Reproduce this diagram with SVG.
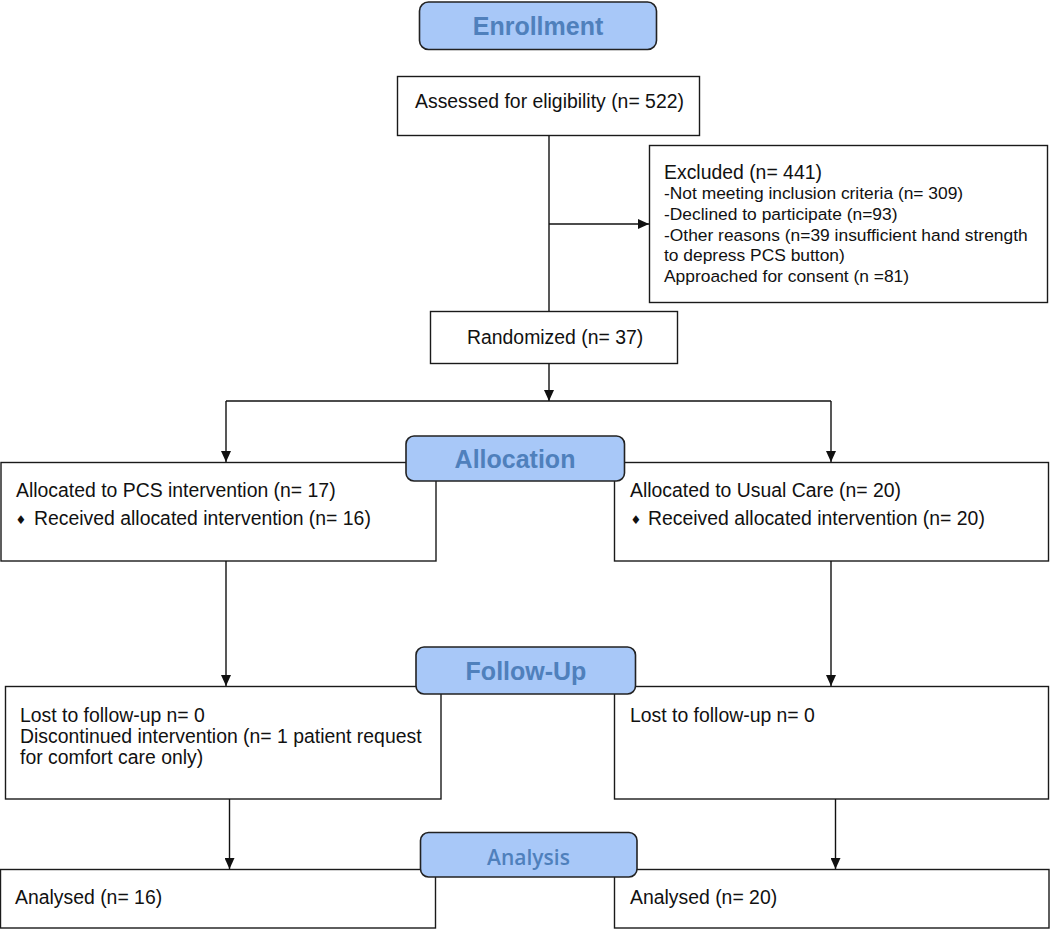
<svg xmlns="http://www.w3.org/2000/svg" width="1050" height="929" viewBox="0 0 1050 929">
<style>
.box{fill:#ffffff;stroke:#1a1a1a;stroke-width:1.4}
.phase{fill:#a8c8f8;stroke:#222222;stroke-width:1.6}
.ptxt{font-family:"Liberation Sans",Arial,sans-serif;font-weight:bold;font-size:25px;fill:#4f80bc;text-anchor:middle}
.atxt{font-family:"Open Sans","Liberation Sans",sans-serif;font-weight:600;font-size:21px;fill:#4f80bc;text-anchor:middle}
.t{font-family:"Liberation Sans",Arial,sans-serif;font-size:19.4px;fill:#111111}
.s{font-family:"Liberation Sans",Arial,sans-serif;font-size:17.4px;fill:#111111}
.dia{font-family:"DejaVu Sans",sans-serif;font-size:12px;fill:#111111;text-anchor:middle}
.ln{fill:none;stroke:#111111;stroke-width:1.4}
</style>
<defs>
<marker id="arr" markerUnits="userSpaceOnUse" markerWidth="11" markerHeight="10" refX="11" refY="5" orient="auto">
<path d="M0,0 L11,5 L0,10 z" fill="#111111"/>
</marker>
</defs>
<rect width="1050" height="929" fill="#ffffff"/>

<g id="assessed">
<rect class="box" x="397.5" y="76.5" width="302" height="59"/>
<text class="t" x="415" y="108">Assessed for eligibility (n= 522)</text>
</g>
<g id="excluded">
<rect class="box" x="649.5" y="145.5" width="398" height="157"/>
<text class="t" x="664" y="179">Excluded (n= 441)</text>
<text class="s" x="664" y="199">-Not meeting inclusion criteria (n= 309)</text>
<text class="s" x="664" y="220">-Declined to participate (n=93)</text>
<text class="s" x="664" y="241">-Other reasons (n=39 insufficient hand strength</text>
<text class="s" x="664" y="261">to depress PCS button)</text>
<text class="s" x="664" y="282">Approached for consent (n =81)</text>
</g>
<g id="randomized">
<rect class="box" x="430.5" y="311.5" width="247" height="52"/>
<text class="t" x="467" y="344">Randomized (n= 37)</text>
</g>
<g id="alloc-pcs">
<rect class="box" x="1" y="462.5" width="435" height="98.5"/>
<text class="t" x="16" y="496.5">Allocated to PCS intervention (n= 17)</text>
<text class="dia" x="21" y="524">♦</text>
<text class="t" x="34" y="524.5">Received allocated intervention (n= 16)</text>
</g>
<g id="alloc-usual">
<rect class="box" x="614.5" y="462.5" width="434" height="98.5"/>
<text class="t" x="630" y="496.5">Allocated to Usual Care (n= 20)</text>
<text class="dia" x="636" y="524">♦</text>
<text class="t" x="648" y="524.5">Received allocated intervention (n= 20)</text>
</g>
<g id="follow-pcs">
<rect class="box" x="5.5" y="686.5" width="435.5" height="112.5"/>
<text class="t" x="20" y="722">Lost to follow-up n= 0</text>
<text class="t" x="20" y="743">Discontinued intervention (n= 1 patient request</text>
<text class="t" x="20" y="764">for comfort care only)</text>
</g>
<g id="follow-usual">
<rect class="box" x="614.5" y="686.5" width="434" height="112.5"/>
<text class="t" x="630" y="722">Lost to follow-up n= 0</text>
</g>
<g id="analysed-pcs">
<rect class="box" x="0.5" y="869.5" width="435" height="58.5"/>
<text class="t" x="15" y="904">Analysed (n= 16)</text>
</g>
<g id="analysed-usual">
<rect class="box" x="614.5" y="869.5" width="434.5" height="58.5"/>
<text class="t" x="630" y="904">Analysed (n= 20)</text>
</g>

<g id="connectors">
<path class="ln" d="M549,136 V311"/>
<path class="ln" d="M549,224 H649" marker-end="url(#arr)"/>
<path class="ln" d="M549,364 V401" marker-end="url(#arr)"/>
<path class="ln" d="M226,401 H831"/>
<path class="ln" d="M226,401 V462" marker-end="url(#arr)"/>
<path class="ln" d="M831,401 V462" marker-end="url(#arr)"/>
<path class="ln" d="M226,561 V686" marker-end="url(#arr)"/>
<path class="ln" d="M831,561 V686" marker-end="url(#arr)"/>
<path class="ln" d="M229.5,799 V869" marker-end="url(#arr)"/>
<path class="ln" d="M835.5,799 V869" marker-end="url(#arr)"/>
</g>

<g id="phase-enrollment">
<rect class="phase" x="419.5" y="2" width="237" height="47.5" rx="9"/>
<text class="ptxt" x="538" y="35">Enrollment</text>
</g>
<g id="phase-allocation">
<rect class="phase" x="406" y="436" width="218.5" height="45" rx="8"/>
<text class="ptxt" x="515" y="468">Allocation</text>
</g>
<g id="phase-followup">
<rect class="phase" x="416" y="647" width="219.5" height="47" rx="8"/>
<text class="ptxt" x="526" y="680">Follow-Up</text>
</g>
<g id="phase-analysis">
<rect class="phase" x="420.5" y="832.5" width="216.5" height="44.5" rx="8"/>
<text class="atxt" x="528.5" y="865">Analysis</text>
</g>
</svg>
